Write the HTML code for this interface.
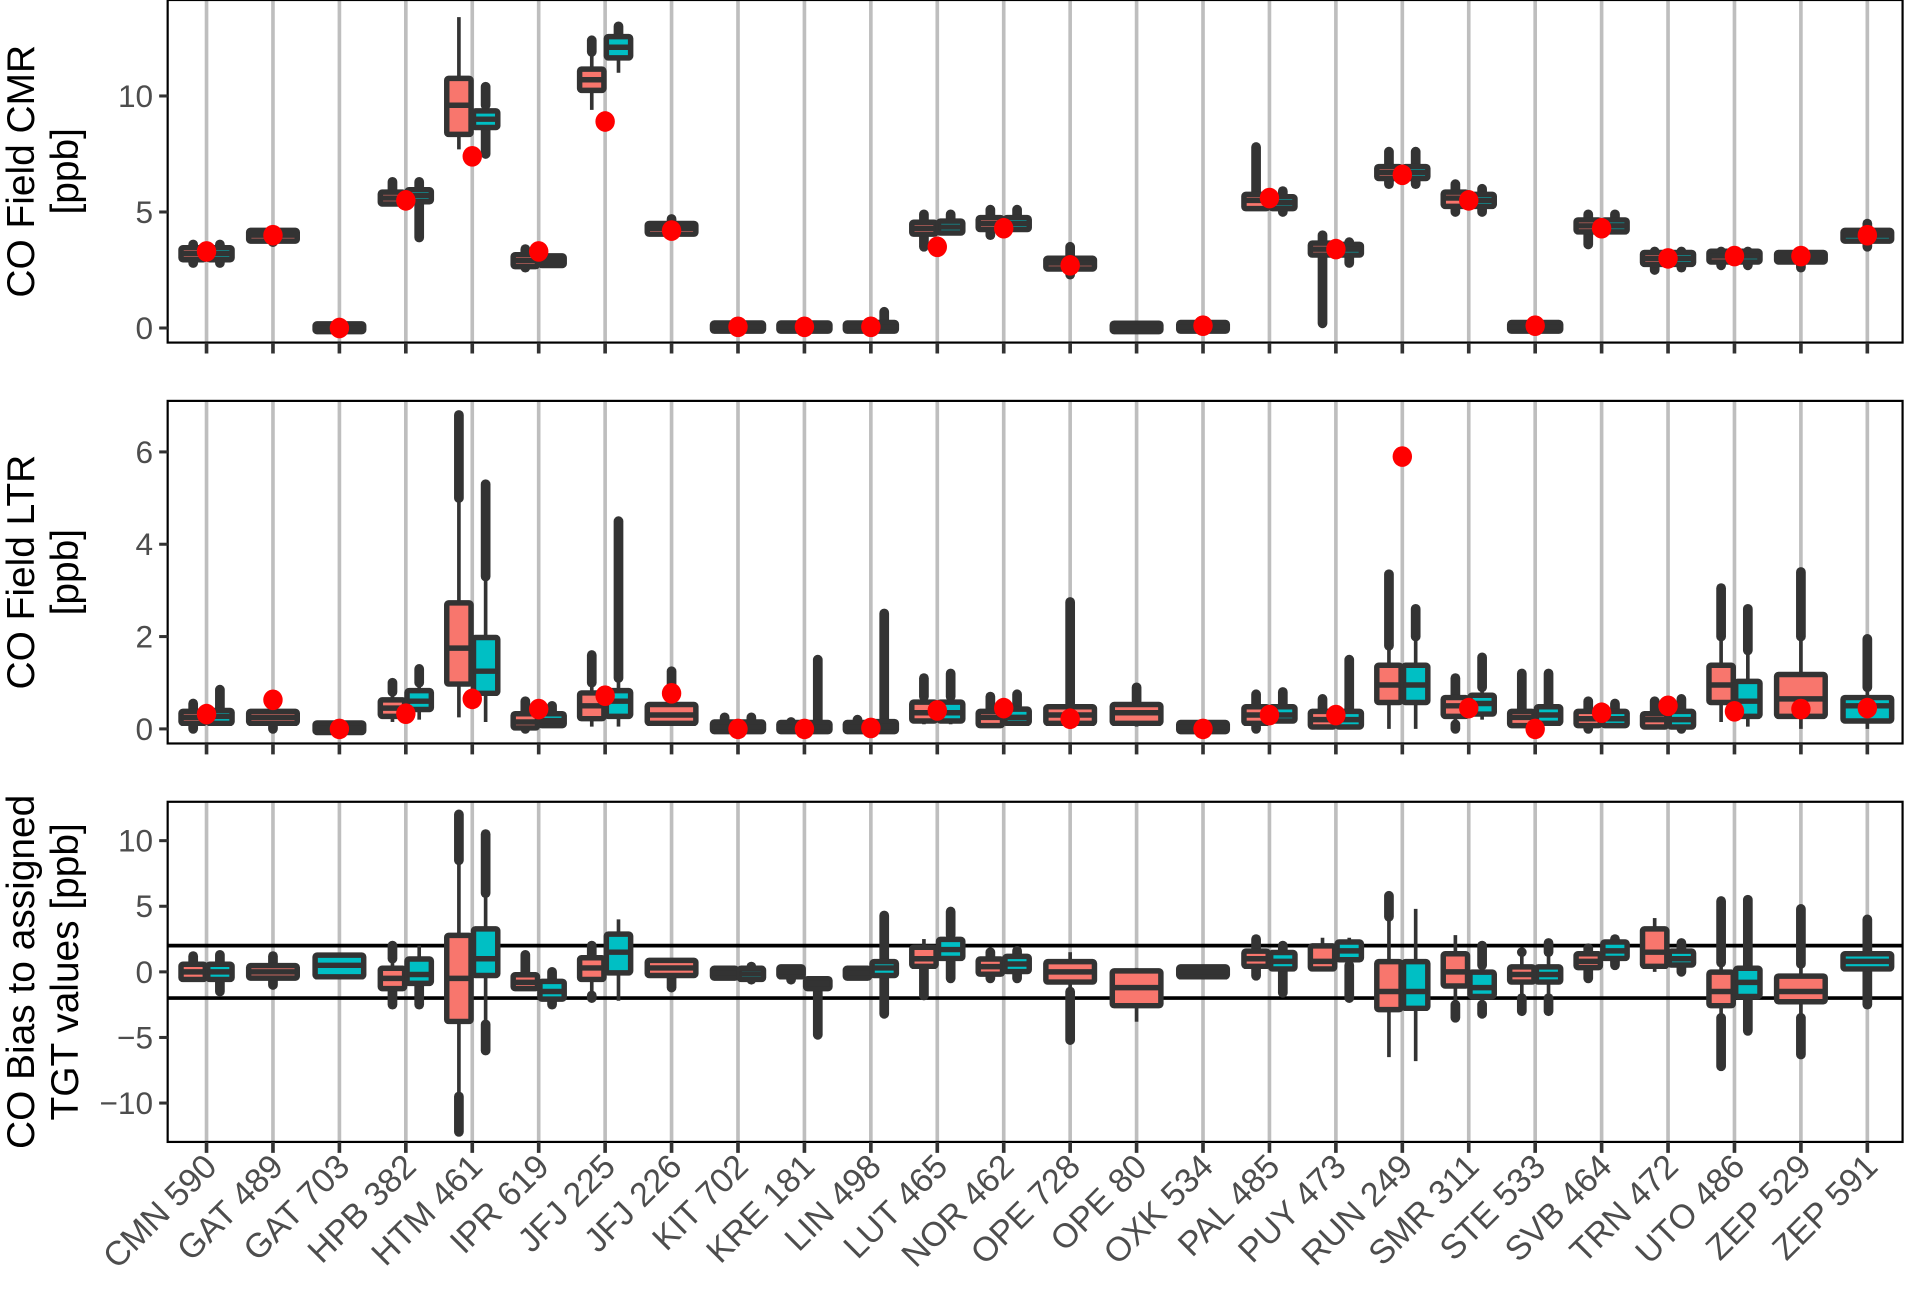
<!DOCTYPE html>
<html><head><meta charset="utf-8"><style>
html,body{margin:0;padding:0;background:#fff;}
svg{display:block;font-family:"Liberation Sans",Arial,sans-serif;}
</style></head><body>
<svg id="chart" width="1905" height="1295" viewBox="0 0 1568 1066" preserveAspectRatio="none" xmlns="http://www.w3.org/2000/svg"></svg>
<script>
const stations=["CMN 590","GAT 489","GAT 703","HPB 382","HTM 461","IPR 619","JFJ 225","JFJ 226","KIT 702","KRE 181","LIN 498","LUT 465","NOR 462","OPE 728","OPE 80","OXK 534","PAL 485","PUY 473","RUN 249","SMR 311","STE 533","SVB 464","TRN 472","UTO 486","ZEP 529","ZEP 591"];
const seriesPresent=["ab","a","b","ab","ab","ab","ab","a","ab","ab","ab","ab","ab","a","a","a","ab","ab","ab","ab","ab","ab","ab","ab","a","b"];
// [lo,q1,med,q3,hi,outLo,outHi]
const cmrA=[[3.0,3.1,3.2,3.3,3.4,2.8,3.6],[3.8,3.9,4.0,4.05,4.1,3.7,4.2],null,[5.3,5.5,5.6,5.7,5.9,null,6.3],[7.7,8.5,9.6,10.6,13.4,null,null],[2.7,2.8,2.9,3.0,3.2,2.6,3.4],[9.4,10.4,10.7,11.0,11.9,null,12.4],[4.1,4.2,4.3,4.35,4.45,4.0,4.7],[0,0.02,0.04,0.06,0.1,null,null],[0,0.02,0.04,0.06,0.1,null,null],[0,0.02,0.04,0.06,0.1,null,null],[4.1,4.2,4.3,4.4,4.5,3.5,4.9],[4.2,4.4,4.5,4.6,4.8,4.0,5.1],[2.6,2.7,2.8,2.85,3.0,2.3,3.5],[0,0,0.02,0.05,0.08,null,null],[0,0.02,0.05,0.08,0.1,null,null],[5.2,5.3,5.5,5.6,5.8,null,7.8],[3.2,3.3,3.4,3.5,3.6,0.2,4.0],[6.5,6.6,6.7,6.8,6.9,6.2,7.6],[5.3,5.4,5.6,5.7,5.8,5.0,6.2],[0,0.02,0.05,0.08,0.1,null,null],[4.2,4.3,4.4,4.5,4.6,3.6,4.9],[2.8,2.9,3.0,3.1,3.2,2.5,3.3],[2.9,3.0,3.1,3.15,3.2,2.7,3.3],[2.9,3.0,3.05,3.1,3.2,2.6,3.3],null];
const cmrB=[[3.0,3.1,3.2,3.3,3.4,2.8,3.6],null,[0,0,0,0.02,0.05,null,null],[5.5,5.6,5.7,5.8,6.0,3.9,6.3],[8.6,8.8,9.0,9.2,9.6,7.5,10.4],[2.8,2.85,2.9,2.95,3.0,null,null],[11.0,11.8,12.1,12.4,12.6,null,13.0],null,[0,0.02,0.04,0.06,0.1,null,null],[0,0.02,0.04,0.06,0.1,null,null],[0,0.02,0.05,0.08,0.15,null,0.7],[4.1,4.25,4.35,4.45,4.6,null,4.9],[4.2,4.4,4.5,4.6,4.8,null,5.1],null,null,null,[5.1,5.3,5.4,5.5,5.7,5.0,5.9],[3.2,3.3,3.4,3.45,3.5,2.8,3.7],[6.5,6.6,6.7,6.8,6.9,6.2,7.6],[5.3,5.4,5.5,5.6,5.7,5.0,6.0],[0,0.02,0.05,0.08,0.1,null,null],[4.2,4.3,4.4,4.5,4.6,null,4.9],[2.8,2.9,3.0,3.1,3.2,2.6,3.3],[2.9,3.0,3.1,3.15,3.2,2.7,3.3],null,[3.8,3.9,4.0,4.05,4.1,3.5,4.5]];
const cmrRef=[3.3,4.0,0.0,5.5,7.4,3.3,8.9,4.2,0.05,0.05,0.05,3.5,4.3,2.7,null,0.1,5.6,3.4,6.6,5.5,0.1,4.3,3.0,3.1,3.1,4.0];
const ltrA=[[0.1,0.2,0.25,0.3,0.4,0.0,0.55],[0.05,0.2,0.25,0.3,0.4,0.0,0.5],null,[0.15,0.35,0.45,0.55,0.8,null,1.0],[0.25,1.05,1.75,2.65,5.0,null,6.8],[0.0,0.1,0.15,0.25,0.35,0.0,0.6],[0.05,0.3,0.5,0.7,1.0,null,1.6],[0.1,0.2,0.3,0.45,0.6,null,1.25],[0,0.02,0.04,0.07,0.12,null,0.25],[0,0.02,0.04,0.06,0.1,null,0.15],[0,0.02,0.04,0.06,0.1,null,0.2],[0.1,0.25,0.35,0.5,0.7,null,1.1],[0.1,0.15,0.25,0.3,0.4,null,0.7],[0.05,0.2,0.3,0.4,0.55,null,2.75],[0.05,0.2,0.35,0.45,0.6,null,0.9],[0,0.02,0.04,0.06,0.1,null,null],[0.05,0.2,0.3,0.4,0.5,0.0,0.75],[0.05,0.12,0.2,0.3,0.4,null,0.65],[0.0,0.65,0.95,1.3,1.8,null,3.35],[0.1,0.35,0.5,0.6,0.7,0.0,1.1],[0.05,0.15,0.25,0.3,0.4,null,1.2],[0.05,0.15,0.22,0.3,0.4,0.0,0.6],[0.05,0.12,0.2,0.25,0.35,null,0.6],[0.15,0.65,0.95,1.3,2.0,null,3.05],[0.0,0.35,0.65,1.1,2.0,null,3.4],null];
const ltrB=[[0.1,0.2,0.27,0.32,0.45,null,0.85],null,[0,0,0.02,0.05,0.08,null,null],[0.2,0.5,0.6,0.75,1.0,null,1.3],[0.15,0.85,1.25,1.9,3.3,null,5.3],[0.1,0.15,0.18,0.25,0.35,null,0.5],[0.05,0.35,0.6,0.75,1.1,null,4.5],null,[0,0.02,0.04,0.07,0.12,null,0.25],[0,0.02,0.04,0.06,0.1,null,1.5],[0,0.02,0.05,0.08,0.15,null,2.5],[0.1,0.25,0.35,0.5,0.7,null,1.2],[0.1,0.2,0.25,0.35,0.5,null,0.75],null,null,null,[0.15,0.25,0.3,0.4,0.5,null,0.8],[0.05,0.12,0.2,0.3,0.4,null,1.5],[0.0,0.65,0.95,1.3,2.0,null,2.6],[0.2,0.4,0.55,0.65,0.9,null,1.55],[0.1,0.2,0.3,0.4,0.5,null,1.2],[0.1,0.15,0.22,0.3,0.4,null,0.55],[0.0,0.12,0.2,0.3,0.35,0.0,0.65],[0.05,0.35,0.6,0.95,1.7,null,2.6],null,[0.0,0.25,0.5,0.6,0.9,null,1.95]];
const ltrRef=[0.32,0.63,0.0,0.33,0.65,0.43,0.72,0.77,0.0,0.0,0.02,0.4,0.45,0.22,null,0.0,0.3,0.3,5.9,0.45,0.0,0.35,0.5,0.38,0.43,0.45];
const biasA=[[-0.5,-0.3,0,0.3,0.5,null,1.2],[-0.3,-0.2,0,0.2,0.4,-1.0,1.2],null,[-1.5,-1,-0.5,0,1.0,-2.5,2.0],[-9.5,-3.5,-0.5,2.5,8.5,-12.2,12],[-1.3,-1.0,-0.8,-0.5,0,null,1.3],[-2,-0.3,0.3,0.8,1.2,-1.8,2],[-0.3,0,0.3,0.6,0.9,-1.2,null],[-0.4,-0.2,-0.1,0.0,0.2,null,null],[-0.4,-0.1,0,0.1,0.2,-0.6,null],[-0.4,-0.2,-0.1,0,0.1,null,null],[0.2,0.7,1.0,1.6,2.5,-1.8,null],[0,0.1,0.4,0.7,1.0,-0.5,1.5],[-1.5,-0.5,0,0.5,1.5,-5.2,null],[-3.8,-2.3,-1.2,-0.2,0.3,null,null],[-0.3,-0.1,0,0.1,0.2,null,null],[0.3,0.7,1.0,1.3,1.6,-0.3,2.5],[0.1,0.5,0.8,1.7,2.6,null,null],[-6.5,-2.6,-1.5,0.5,4.2,null,5.8],[-2.5,-0.8,0,1.1,2.8,-3.5,null],[-2,-0.5,-0.2,0.1,1.5,-3,1.5],[0.3,0.6,0.8,1.1,1.5,-0.5,1.8],[0,0.7,1.5,3.0,4.1,null,null],[-3.5,-2.3,-1.5,-0.3,0.7,-7.2,5.4],[-3.5,-2.0,-1.5,-0.6,0.6,-6.3,4.8],null];
const biasB=[[-0.5,-0.3,0,0.3,0.7,-1.5,1.3],null,[-0.2,-0.1,0.5,1.0,1.1,null,null],[-1.0,-0.6,-0.2,0.7,2.0,-2.5,null],[-4,0,1,3,6,-6,10.5],[-2.0,-1.8,-1.5,-1.0,-0.8,-2.5,0],[-2.2,0.2,1.5,2.6,4.0,null,null],null,[-0.4,-0.3,-0.15,0.0,0.2,-0.6,0.4],[-1.2,-1.0,-0.9,-0.8,-0.6,-4.8,null],[-0.5,0,0.3,0.5,1.0,-3.2,4.3],[0.8,1.3,1.7,2.2,2.8,-0.5,4.6],[0,0.3,0.6,0.9,1.3,-0.5,1.6],null,null,null,[0.2,0.5,0.8,1.2,1.5,-1.6,2.0],[0.5,1.2,1.6,2.0,2.6,-2.0,null],[-6.8,-2.5,-1.5,0.5,4.8,null,null],[-2.5,-1.6,-1.2,-0.3,0.5,-3.2,2],[-2,-0.5,-0.2,0.1,1.5,-3,2.2],[1.0,1.3,1.6,2.0,2.2,0.5,2.5],[0.5,0.8,1.0,1.3,1.5,0,2.2],[-2,-1.6,-0.8,0,0.5,-4.5,5.5],null,[0.2,0.5,0.8,1.1,1.4,-2.5,4.0]];
const cmrTicks=[0,5,10], ltrTicks=[0,2,4,6], biasTicks=[-10,-5,0,5,10];
const biasLimits=[-2,2];

const svg=document.getElementById('chart');
const NS='http://www.w3.org/2000/svg';
function el(tag,attrs,parent){const e=document.createElementNS(NS,tag);for(const k in attrs)e.setAttribute(k,attrs[k]);(parent||svg).appendChild(e);return e;}
const X0=138,X1=1566;
function xs(i){return 170+i*(1537-170)/(stations.length-1);}
const PINK='#F8766D',CYAN='#00BFC4',DARK='#333333';

const panels=[
 {name:'cmr',top:0,bot:282,y0:270,ppu:19.1,A:cmrA,B:cmrB,ref:cmrRef,ticks:cmrTicks,t1:'CO Field CMR',t2:'[ppb]'},
 {name:'ltr',top:330,bot:612,y0:600,ppu:38,A:ltrA,B:ltrB,ref:ltrRef,ticks:ltrTicks,t1:'CO Field LTR',t2:'[ppb]'},
 {name:'bias',top:660,bot:940,y0:800,ppu:10.8,A:biasA,B:biasB,ref:null,ticks:biasTicks,t1:'CO Bias to assigned',t2:'TGT values [ppb]'}
];

panels.forEach(p=>{
  const g=el('g',{});
  
  
  const ys=v=>p.y0-v*p.ppu;
  stations.forEach((s,i)=>{
    const l=el('line',{x1:xs(i),x2:xs(i),y1:p.top,y2:p.bot,stroke:'#bebebe','stroke-width':3},g);
    
    
  });
  if(p.name==='bias'){
    biasLimits.forEach(v=>{
      const l=el('line',{x1:X0,x2:X1,y1:ys(v),y2:ys(v),stroke:'#000','stroke-width':3},g);
      
      
    });
  }
  stations.forEach((s,i)=>{
    const pres=seriesPresent[i];
    const list=[];
    if(p.A[i]&&pres.includes('a'))list.push({d:p.A[i],c:PINK,k:'a'});
    if(p.B[i]&&pres.includes('b'))list.push({d:p.B[i],c:CYAN,k:'b'});
    const two=list.length===2;
    list.forEach((it,j)=>{
      const cx=two?xs(i)+(j===0?-11:11):xs(i);
      const w=two?20:40;
      const d=it.d;
      const bg=el('g',{},g);
      
      
      if(d[6]!=null)el('line',{x1:cx,x2:cx,y1:ys(d[4]),y2:ys(d[6]),stroke:DARK,'stroke-width':8,'stroke-linecap':'round'},bg);
      if(d[5]!=null)el('line',{x1:cx,x2:cx,y1:ys(d[5]),y2:ys(d[0]),stroke:DARK,'stroke-width':8,'stroke-linecap':'round'},bg);
      el('line',{x1:cx,x2:cx,y1:ys(d[0]),y2:ys(d[4]),stroke:DARK,'stroke-width':3},bg);
      const yq3=ys(d[3]),yq1=ys(d[1]);
      el('rect',{x:cx-w/2,y:yq3-3,width:w,height:Math.max(yq1-yq3,0)+6,fill:it.c,stroke:DARK,'stroke-width':4.5,rx:1.5},bg);
      el('line',{x1:cx-w/2,x2:cx+w/2,y1:ys(d[2]),y2:ys(d[2]),stroke:DARK,'stroke-width':4.5},bg);
    });
    if(p.ref&&p.ref[i]!=null){
      const c=el('ellipse',{cx:xs(i),cy:ys(p.ref[i]),rx:8,ry:8.5,fill:'#ff0000'},g);
      
      
    }
  });
  const fr=el('rect',{x:X0,y:p.top,width:X1-X0,height:p.bot-p.top,fill:'none',stroke:'#000','stroke-width':1.8},g);
  
  
  stations.forEach((s,i)=>{el('line',{x1:xs(i),x2:xs(i),y1:p.bot,y2:p.bot+9,stroke:DARK,'stroke-width':3},g);});
  p.ticks.forEach(v=>{
    el('line',{x1:X0-7,x2:X0,y1:ys(v),y2:ys(v),stroke:DARK,'stroke-width':2.5},g);
    const t=el('text',{x:X0-12,y:ys(v)+9,'text-anchor':'end','font-size':26,fill:'#4d4d4d'},g);
    t.textContent=(v<0?'\u2212'+Math.abs(v):String(v));
    
    
  });
  const my=(p.top+p.bot)/2;
  const t1=el('text',{x:0,y:0,transform:`translate(28,${my}) rotate(-90)`,'text-anchor':'middle','font-size':32,fill:'#000'},g);
  t1.textContent=p.t1;
  
  
  const t2=el('text',{x:0,y:0,transform:`translate(64,${my}) rotate(-90)`,'text-anchor':'middle','font-size':32,fill:'#000'},g);
  t2.textContent=p.t2;
  
  
});
stations.forEach((s,i)=>{
  const t=el('text',{x:0,y:0,transform:`translate(${xs(i)+10},${962}) rotate(-45)`,'text-anchor':'end','font-size':28,fill:'#4d4d4d'});
  t.textContent=s;
  
  
});
</script>
</body></html>
